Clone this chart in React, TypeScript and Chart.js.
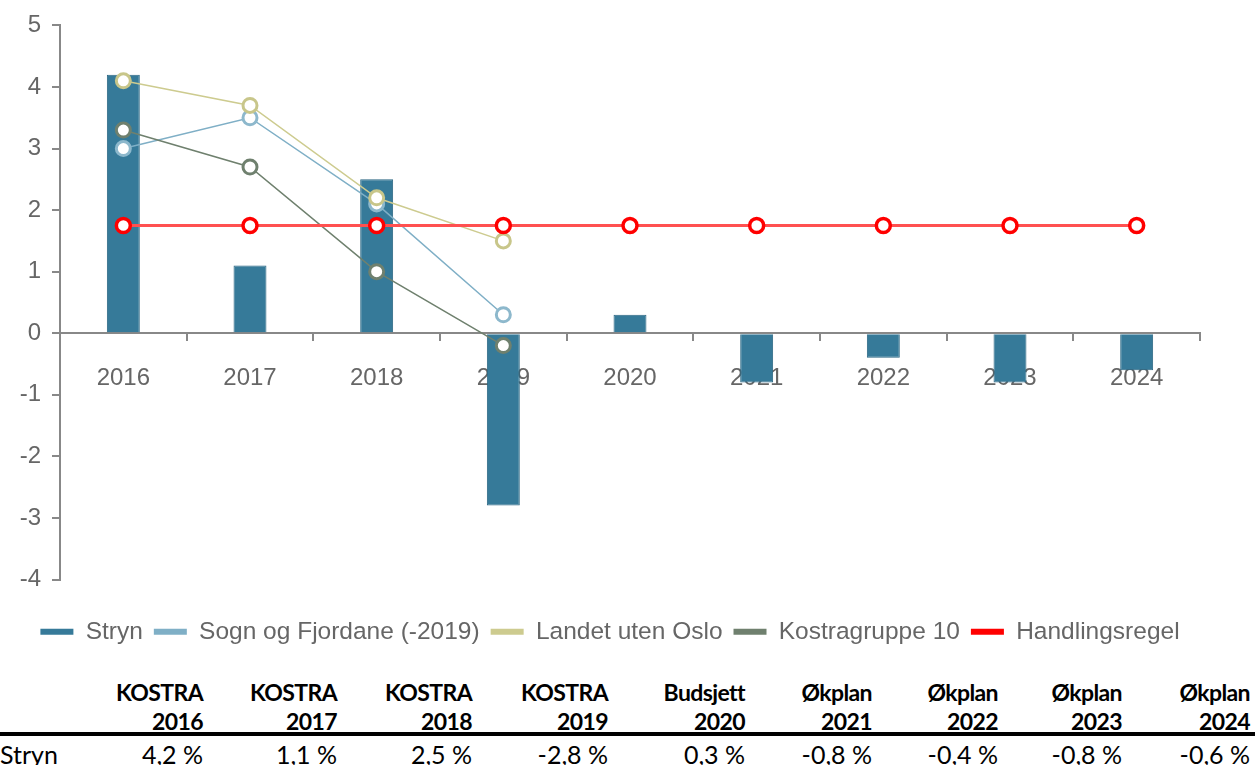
import React, { useEffect, useRef } from "react";
import { Chart, registerables } from "chart.js";

Chart.register(...registerables);

const categories = ["2016", "2017", "2018", "2019", "2020", "2021", "2022", "2023", "2024"];
const stryn = [4.2, 1.1, 2.5, -2.8, 0.3, -0.8, -0.4, -0.8, -0.6];
const sognOgFjordane = [3.0, 3.5, 2.1, 0.3, null, null, null, null, null];
const landetUtenOslo = [4.1, 3.7, 2.2, 1.5, null, null, null, null, null];
const kostragruppe10 = [3.3, 2.7, 1.0, -0.2, null, null, null, null, null];
const handlingsregel = [1.75, 1.75, 1.75, 1.75, 1.75, 1.75, 1.75, 1.75, 1.75];

const yTickMin = -4;
const yTickMax = 5;

const tableHeadTop = ["KOSTRA", "KOSTRA", "KOSTRA", "KOSTRA", "Budsjett", "Økplan", "Økplan", "Økplan", "Økplan"];
const tableHeadYear = ["2016", "2017", "2018", "2019", "2020", "2021", "2022", "2023", "2024"];
const tableRowLabel = "Stryn";
const tableValues = ["4,2 %", "1,1 %", "2,5 %", "-2,8 %", "0,3 %", "-0,8 %", "-0,4 %", "-0,8 %", "-0,6 %"];

const colWidths = [68, 135, 134, 135, 136, 137, 127, 126, 124, 128];

const FONT = "'Liberation Sans', Arial, sans-serif";
const TABLE_FONT = "Lato, 'Noto Sans', sans-serif";

export default function App() {
  const canvasRef = useRef<HTMLCanvasElement | null>(null);

  useEffect(() => {
    if (!canvasRef.current) return;
    const chart = new Chart(canvasRef.current, {
      type: "bar",
      data: {
        labels: categories,
        datasets: [
          {
            type: "bar",
            label: "Stryn",
            data: stryn,
            backgroundColor: "#367A99",
            borderColor: "#2A6682",
            borderWidth: 1,
            barPercentage: 0.26,
            categoryPercentage: 1,
            order: 10,
          } as any,
          {
            type: "line",
            label: "Sogn og Fjordane (-2019)",
            data: sognOgFjordane,
            borderColor: "#7FAFC6",
            backgroundColor: "#7FAFC6",
            borderWidth: 1.5,
            pointRadius: 7,
            pointBorderWidth: 3,
            pointBackgroundColor: "#ffffff",
            pointBorderColor: "#8DB8CC",
            fill: false,
            order: 4,
          },
          {
            type: "line",
            label: "Landet uten Oslo",
            data: landetUtenOslo,
            borderColor: "#CDCB8F",
            backgroundColor: "#CDCB8F",
            borderWidth: 1.5,
            pointRadius: 7,
            pointBorderWidth: 3,
            pointBackgroundColor: "#ffffff",
            pointBorderColor: "#C8C68A",
            fill: false,
            order: 2,
          },
          {
            type: "line",
            label: "Kostragruppe 10",
            data: kostragruppe10,
            borderColor: "#6F806E",
            backgroundColor: "#6F806E",
            borderWidth: 1.5,
            pointRadius: 7,
            pointBorderWidth: 3,
            pointBackgroundColor: "#ffffff",
            pointBorderColor: "#6F806E",
            fill: false,
            order: 3,
          },
          {
            type: "line",
            label: "Handlingsregel",
            data: handlingsregel,
            borderColor: "#FF5050",
            backgroundColor: "#FF0000",
            borderWidth: 3,
            pointRadius: 7,
            pointBorderWidth: 3.5,
            pointBackgroundColor: "#ffffff",
            pointBorderColor: "#FF0000",
            fill: false,
            order: 1,
          },
        ],
      },
      options: {
        animation: false,
        responsive: false,
        layout: { padding: { top: 24, right: 55, left: 20, bottom: 0 } },
        plugins: {
          tooltip: { enabled: false },
          legend: {
            position: "bottom",
            title: { display: true, text: "", font: { size: 10 }, padding: { top: 0, bottom: 17 } },
            labels: {
              font: { family: FONT, size: 24.5 },
              color: "#666666",
              boxWidth: 33,
              boxHeight: 6,
              padding: 11,
              generateLabels: (ch: any) =>
                ch.data.datasets.map((ds: any, i: number) => ({
                  text: ds.label,
                  fillStyle: ds.backgroundColor,
                  strokeStyle: ds.backgroundColor,
                  lineWidth: 0,
                  hidden: false,
                  datasetIndex: i,
                  fontColor: "#666666",
                })),
            },
          },
        },
        scales: {
          x: {
            type: "category",
            position: { y: 0 } as any,
            offset: true,
            z: 1,
            grid: {
              offset: true,
              drawOnChartArea: false,
              drawTicks: true,
              tickLength: 7,
              color: "#888888",
              lineWidth: 2,
            },
            border: { color: "#888888", width: 2 },
            ticks: { color: "#666666", font: { family: FONT, size: 24 }, padding: 24 },
          },
          y: {
            min: yTickMin,
            max: yTickMax,
            ticks: { stepSize: 1, color: "#666666", font: { family: FONT, size: 24 }, padding: 11 },
            grid: { drawOnChartArea: false, drawTicks: true, tickLength: 8, color: "#888888", lineWidth: 2 },
            border: { color: "#888888", width: 2 },
            afterFit: (s: any) => {
              s.width = 40;
            },
          },
        },
      } as any,
    });
    return () => chart.destroy();
  }, []);

  const rowStyle = (top: number, bold: boolean, size: number): React.CSSProperties => ({
    position: "absolute",
    left: 0,
    top,
    display: "flex",
    fontFamily: TABLE_FONT,
    fontSize: size,
    lineHeight: "29px",
    fontWeight: bold ? 700 : 400,
    letterSpacing: bold ? "-0.6px" : "0px",
    color: "#000",
    whiteSpace: "nowrap",
  });

  const cell = (text: string, i: number, align: "left" | "right") => (
    <div key={i} style={{ width: colWidths[i], textAlign: align }}>
      {text}
    </div>
  );

  return (
    <div style={{ position: "absolute", left: 0, top: 0, width: 1255, height: 765, background: "#fff", overflow: "hidden" }}>
      <canvas ref={canvasRef} width={1255} height={654} style={{ position: "absolute", left: 0, top: 0 }} />
      <div style={rowStyle(678, true, 23)}>
        {cell("", 0, "left")}
        {tableHeadTop.map((t, i) => cell(t, i + 1, "right"))}
      </div>
      <div style={rowStyle(707, true, 23)}>
        {cell("", 0, "left")}
        {tableHeadYear.map((t, i) => cell(t, i + 1, "right"))}
      </div>
      <div style={{ position: "absolute", left: 0, top: 732, width: 1255, height: 4, background: "#000" }} />
      <div style={rowStyle(740, false, 25)}>
        {cell(tableRowLabel, 0, "left")}
        {tableValues.map((t, i) => cell(t, i + 1, "right"))}
      </div>
    </div>
  );
}
